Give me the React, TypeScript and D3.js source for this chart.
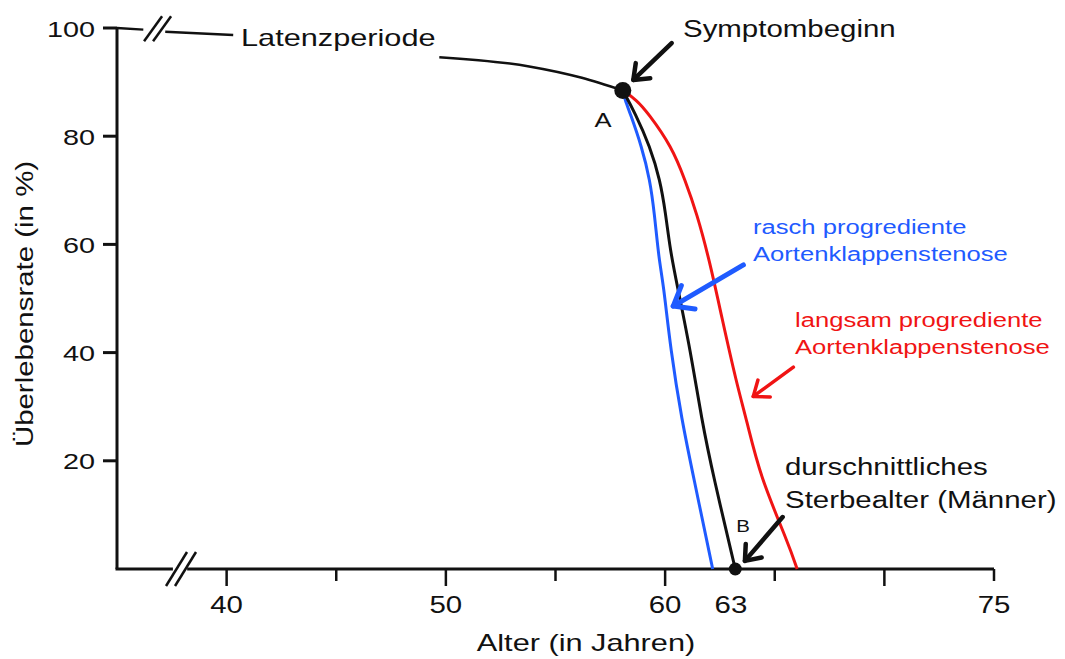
import React from "react";
import { scaleLinear, line, curveBasis, curveMonotoneX } from "d3";

// Überlebenskurve: Latenzperiode bis Symptombeginn (A), danach drei Verläufe
const latencyAge = [35, 36.2, NaN, 37.2, 40.3, NaN, 49.7, 53.8, 56.2, 58.07];
const latencyRate = [100, 99.7, NaN, 99.3, 98.7, NaN, 94.6, 92.9, 90.8, 88.45];

const fastAge = [58.07, 58.17, 58.4, 58.93, 59.31, 59.51, 59.72, 59.92, 60.25, 60.76, 61.29, 62.17];
const fastRate = [88.45, 86.7, 84.3, 78.1, 71.9, 65.8, 57.1, 52.8, 40.5, 27.5, 17.1, 0];

const avgAge = [58.07, 58.63, 59.31, 59.77, 60.02, 60.23, 60.53, 61.15, 61.67, 62.2, 63.2];
const avgRate = [88.45, 84.3, 78.1, 71.9, 65.8, 59.0, 52.8, 40.5, 27.5, 17.1, 0];

const slowAge = [58.07, 58.7, 59.22, 60.3, 60.91, 61.44, 62.02, 62.58, 63.26, 63.72, 64.33, 65.62, 66.02];
const slowRate = [88.45, 86.7, 84.3, 78.1, 71.9, 65.8, 57.1, 46.6, 34.3, 27.5, 17.1, 4.75, 0];

const pointA = { age: 58.07, rate: 88.45 };
const pointB = { age: 63.2, rate: 0 };

const xTicks = [40, 45, 50, 55, 60, 65, 70, 75];
const xTickLabels = [40, 50, 60, 63, 75];
const yTicks = [20, 40, 60, 80, 100];

const arrows = [
  { from: [60.3, 97.2], to: [58.55, 90.4], color: "#111", width: 4.5, head: 17 },
  { from: [63.57, 56.2], to: [60.37, 48.6], color: "#1f5bff", width: 5, head: 22 },
  { from: [65.85, 37.3], to: [64.02, 31.9], color: "#f01414", width: 3.5, head: 17 },
  { from: [65.36, 9.6], to: [63.64, 1.5], color: "#111", width: 4.5, head: 17 },
];

const W = 1065;
const H = 659;
const BLUE = "#1f5bff";
const RED = "#f01414";
const INK = "#111";
const FONT = "'Liberation Sans', Arial, sans-serif";

function Label({ x, y, size, anchor = "start", color = INK, rotate = 0, children }: any) {
  return (
    <text
      transform={`translate(${x},${y}) rotate(${rotate}) scale(1.28,1)`}
      textAnchor={anchor}
      fontSize={size}
      fill={color}
      fontFamily={FONT}
    >
      {children}
    </text>
  );
}

export default function App() {
  const x = scaleLinear().domain([35, 75]).range([117, 994]);
  const y = scaleLinear().domain([0, 100]).range([569, 28]);

  const toPts = (ages: number[], rates: number[]) => ages.map((a, i) => [a, rates[i]]);

  const latencyPath = line<number[]>()
    .defined((d) => !isNaN(d[0]))
    .x((d) => x(d[0]))
    .y((d) => y(d[1]))
    .curve(curveMonotoneX);

  const dropPath = line<number[]>()
    .x((d) => x(d[0]))
    .y((d) => y(d[1]))
    .curve(curveBasis);

  // Achsenbruch "//"
  const breakMarks = (cx: number, cy: number, dx: number, dy: number) =>
    [-4.5, 4.5].map((o, i) => (
      <line
        key={i}
        x1={cx + o - dx / 2}
        y1={cy + dy / 2}
        x2={cx + o + dx / 2}
        y2={cy - dy / 2}
        stroke={INK}
        strokeWidth={2.5}
      />
    ));

  const arrowShape = (a: any, i: number) => {
    const x1 = x(a.from[0]);
    const y1 = y(a.from[1]);
    const x2 = x(a.to[0]);
    const y2 = y(a.to[1]);
    const ang = Math.atan2(y1 - y2, x1 - x2);
    const spread = (38 * Math.PI) / 180;
    const b1 = [x2 + a.head * Math.cos(ang - spread), y2 + a.head * Math.sin(ang - spread)];
    const b2 = [x2 + a.head * Math.cos(ang + spread), y2 + a.head * Math.sin(ang + spread)];
    return (
      <g key={i} stroke={a.color} strokeWidth={a.width} strokeLinecap="round" strokeLinejoin="round" fill="none">
        <line x1={x1} y1={y1} x2={x2} y2={y2} />
        <path d={`M${b1[0]},${b1[1]}L${x2},${y2}L${b2[0]},${b2[1]}`} />
      </g>
    );
  };

  return (
    <svg width={W} height={H} style={{ position: "absolute", left: 0, top: 0, background: "#fff" }}>
      {/* y-Achse */}
      <line x1={x(35)} y1={y(100)} x2={x(35)} y2={y(0)} stroke={INK} strokeWidth={3} />
      {yTicks.map((t) => (
        <g key={t}>
          <line x1={x(35) - 14} x2={x(35)} y1={y(t)} y2={y(t)} stroke={INK} strokeWidth={3} />
          <Label x={95} y={y(t) + 8.5} size={22.5} anchor="end">
            {t}
          </Label>
        </g>
      ))}

      {/* x-Achse mit Bruch */}
      <line x1={x(35) - 1.5} x2={x(37.55)} y1={y(0)} y2={y(0)} stroke={INK} strokeWidth={3} />
      <line x1={x(38.2)} x2={x(75)} y1={y(0)} y2={y(0)} stroke={INK} strokeWidth={3} />
      {breakMarks(x(37.92), y(0), 21, 34)}
      {breakMarks(x(36.85), y(99.85), 18, 25)}
      {xTicks.map((t) => (
        <line
          key={t}
          x1={x(t)}
          x2={x(t)}
          y1={y(0)}
          y2={y(0) + (t % 10 === 0 ? 17 : 12)}
          stroke={INK}
          strokeWidth={2.5}
        />
      ))}
      {xTickLabels.map((t) => (
        <Label key={t} x={x(t)} y={613} size={23} anchor="middle">
          {t}
        </Label>
      ))}

      {/* Kurven */}
      <path d={latencyPath(toPts(latencyAge, latencyRate)) || ""} fill="none" stroke={INK} strokeWidth={2.5} />
      <path d={dropPath(toPts(slowAge, slowRate)) || ""} fill="none" stroke={RED} strokeWidth={3} />
      <path d={dropPath(toPts(fastAge, fastRate)) || ""} fill="none" stroke={BLUE} strokeWidth={3} />
      <path d={dropPath(toPts(avgAge, avgRate)) || ""} fill="none" stroke={INK} strokeWidth={3} />

      <circle cx={x(pointA.age)} cy={y(pointA.rate)} r={8.5} fill={INK} />
      <circle cx={x(pointB.age)} cy={y(pointB.rate)} r={6.5} fill={INK} />

      {arrows.map(arrowShape)}

      {/* Beschriftungen */}
      <Label x={241} y={46} size={24}>Latenzperiode</Label>
      <Label x={683} y={37} size={23}>Symptombeginn</Label>
      <Label x={603} y={127} size={20} anchor="middle">A</Label>
      <Label x={743} y={532} size={16} anchor="middle">B</Label>
      <Label x={753} y={234} size={20} color={BLUE}>rasch progrediente</Label>
      <Label x={753} y={261} size={20} color={BLUE}>Aortenklappenstenose</Label>
      <Label x={795} y={327} size={20} color={RED}>langsam progrediente</Label>
      <Label x={795} y={354} size={20} color={RED}>Aortenklappenstenose</Label>
      <Label x={785} y={475} size={23}>durschnittliches</Label>
      <Label x={785} y={508} size={23}>Sterbealter (Männer)</Label>

      <Label x={586} y={651} size={24} anchor="middle">Alter (in Jahren)</Label>
      <Label x={33} y={304} size={23} anchor="middle" rotate={-90}>Überlebensrate (in %)</Label>
    </svg>
  );
}
